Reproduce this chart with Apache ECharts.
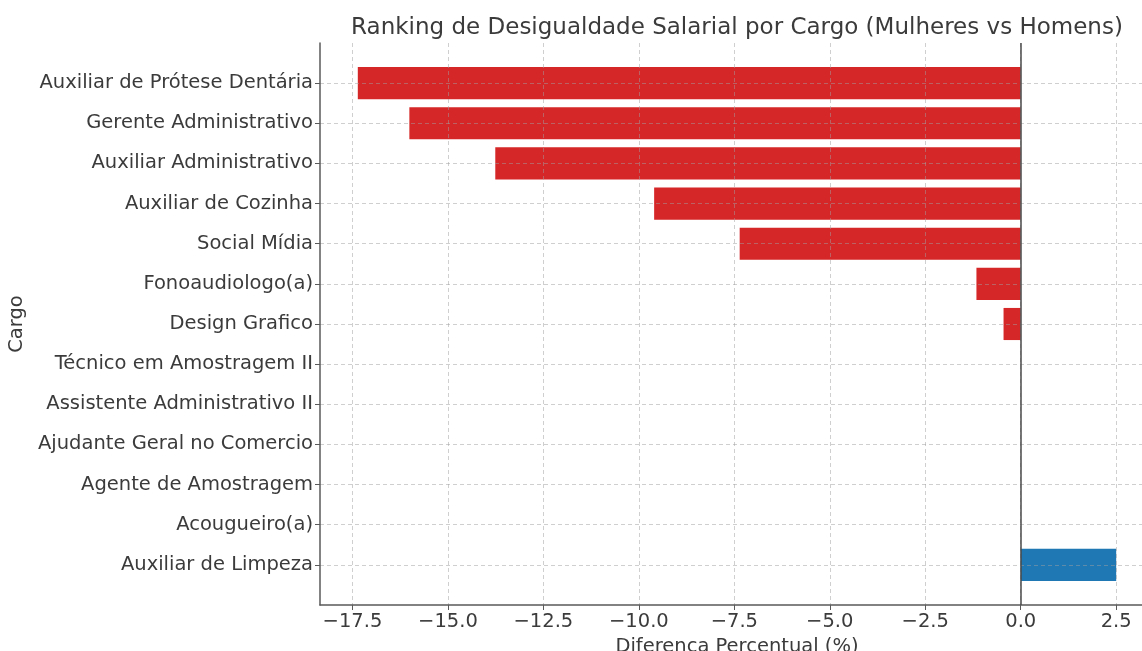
<!DOCTYPE html>
<html>
<head>
<meta charset="utf-8">
<title>Ranking de Desigualdade Salarial por Cargo</title>
<script src="https://cdn.jsdelivr.net/npm/echarts@6/dist/echarts.min.js"></script>
<style>
    html, body { margin: 0; padding: 0; background: #fff; }
    #chart { width: 1142px; height: 651px; }
</style>
</head>
<body>
<div id="chart"></div>
<script>
// cargos, de cima para baixo
var cargos = [
    "Auxiliar de Prótese Dentária",
    "Gerente Administrativo",
    "Auxiliar Administrativo",
    "Auxiliar de Cozinha",
    "Social Mídia",
    "Fonoaudiologo(a)",
    "Design Grafico",
    "Técnico em Amostragem II",
    "Assistente Administrativo II",
    "Ajudante Geral no Comercio",
    "Agente de Amostragem",
    "Acougueiro(a)",
    "Auxiliar de Limpeza"
];
// diferenca percentual (mulheres vs homens)
var diferencas = [-17.36, -16.01, -13.76, -9.60, -7.36, -1.16, -0.45, 0, 0, 0, 0, 0, 2.50];
var xTicks = [-17.5, -15, -12.5, -10, -7.5, -5, -2.5, 0, 2.5];

var corNeg = "#d62728";
var corPos = "#1f77b4";
var corTexto = "#3b3b3b";
var corEixo = "#5a5a5a";
var fonte = "DejaVu Sans";

// meia categoria vazia em cima e embaixo, como a margem do matplotlib
var yCats = [""].concat(cargos).concat([""]);
var yVals = ["-"].concat(diferencas).concat(["-"]);
var dentro = function(idx){
    return idx > 0 && idx < yCats.length - 1;
};
var grade = { color: "rgba(160,160,160,0.5)", type: [4, 3], width: 1 };

var option = {
    backgroundColor: "#fff",
    animation: false,
    textStyle: { fontFamily: fonte },
    title: {
        text: "Ranking de Desigualdade Salarial por Cargo (Mulheres vs Homens)",
        left: 732,
        textAlign: "center",
        top: 12,
        textStyle: { fontFamily: fonte, fontSize: 23, fontWeight: "normal", color: corTexto }
    },
    grid: { left: 320, width: 834, top: 43, height: 562, outerBoundsMode: "none" },
    xAxis: {
        type: "value",
        min: -18.35,
        max: 3.49,
        z: 3,
        name: "Diferenca Percentual (%)",
        nameLocation: "middle",
        nameGap: 29,
        nameTextStyle: { fontFamily: fonte, fontSize: 19.5, color: corTexto },
        axisLine: { show: true, onZero: false, lineStyle: { color: corEixo, width: 1.5 } },
        axisTick: { show: true, length: 5, customValues: xTicks, lineStyle: { color: corEixo } },
        axisLabel: {
            customValues: xTicks,
            margin: 7,
            fontFamily: fonte,
            fontSize: 19.5,
            color: corTexto,
            formatter: function(v){
                return (v < 0 ? "\u2212" : "") + Math.abs(v).toFixed(1);
            }
        },
        splitLine: { show: true, lineStyle: grade }
    },
    yAxis: {
        type: "category",
        data: yCats,
        inverse: true,
        boundaryGap: false,
        z: 3,
        name: "Cargo",
        nameLocation: "middle",
        nameGap: 284,
        nameTextStyle: { fontFamily: fonte, fontSize: 19.5, color: corTexto },
        axisLine: { show: true, onZero: false, lineStyle: { color: corEixo, width: 1.5 } },
        axisTick: { show: true, length: 5, interval: dentro, lineStyle: { color: corEixo } },
        axisLabel: { interval: 0, margin: 7, fontFamily: fonte, fontSize: 19.5, color: corTexto },
        splitLine: { show: true, interval: dentro, lineStyle: grade }
    },
    series: [
        {
            type: "bar",
            data: yVals,
            barWidth: "80%",
            itemStyle: {
                color: function(p){
                    return p.value < 0 ? corNeg : corPos;
                }
            },
            markLine: {
                silent: true,
                symbol: "none",
                label: { show: false },
                lineStyle: { color: "#4a4a4a", width: 1.5, type: "solid" },
                data: [{ xAxis: 0 }]
            }
        }
    ]
};

var myChart = echarts.init(document.getElementById("chart"));
myChart.setOption(option, true);
</script>
</body>
</html>
